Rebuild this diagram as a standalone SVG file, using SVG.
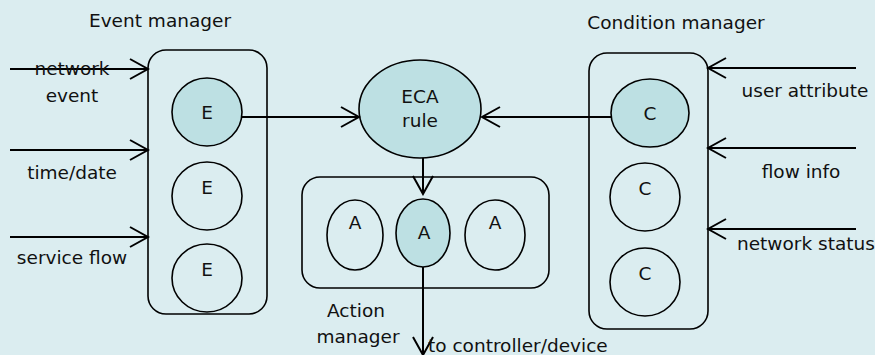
<svg xmlns="http://www.w3.org/2000/svg" width="875" height="355" viewBox="0 0 875 355">
  <defs>
    <style>
      text { font-family: "DejaVu Sans", Verdana, sans-serif; font-size: 18.5px; fill: #111; }
      .c { text-anchor: middle; }
      .box { fill: none; stroke: #000; stroke-width: 1.6; }
      .node { fill: none; stroke: #000; stroke-width: 1.6; }
      .hot { fill: #bde0e3; }
      .wire { fill: none; stroke: #000; stroke-width: 2; }
    </style>
    <marker id="open" viewBox="-20 -12 22 24" markerWidth="22" markerHeight="24" refX="0" refY="0" markerUnits="userSpaceOnUse" orient="auto">
      <path d="M-18,-10 L0,0 L-18,10" fill="none" stroke="#000" stroke-width="2"/>
    </marker>
  </defs>

  <rect width="875" height="355" fill="#dbedf0"/>

  <!-- Event manager -->
  <g id="event-manager">
    <text class="c" x="160" y="27">Event manager</text>
    <rect class="box" x="148" y="50" width="119" height="264" rx="18"/>
    <ellipse class="node hot" cx="207" cy="112" rx="35" ry="34"/>
    <text class="c" x="207" y="119">E</text>
    <ellipse class="node" cx="207" cy="196" rx="35" ry="34"/>
    <text class="c" x="207" y="194">E</text>
    <ellipse class="node" cx="207" cy="278" rx="35" ry="34"/>
    <text class="c" x="207" y="276">E</text>
  </g>

  <!-- ECA rule -->
  <g id="eca-rule">
    <ellipse class="node hot" cx="420" cy="109" rx="61" ry="49"/>
    <text class="c" x="420" y="103">ECA</text>
    <text class="c" x="420" y="127">rule</text>
  </g>

  <!-- Action manager -->
  <g id="action-manager">
    <rect class="box" x="302" y="177" width="247" height="111" rx="18"/>
    <ellipse class="node" cx="355" cy="235" rx="28" ry="35"/>
    <text class="c" x="355" y="229">A</text>
    <ellipse class="node hot" cx="423" cy="233" rx="27" ry="34"/>
    <text class="c" x="424" y="239">A</text>
    <ellipse class="node" cx="495" cy="235" rx="30" ry="35"/>
    <text class="c" x="495" y="229">A</text>
    <text class="c" x="356" y="317">Action</text>
    <text class="c" x="358" y="343">manager</text>
  </g>

  <!-- Condition manager -->
  <g id="condition-manager">
    <text class="c" x="676" y="29">Condition manager</text>
    <rect class="box" x="589" y="53" width="119" height="276" rx="18"/>
    <ellipse class="node hot" cx="650" cy="113" rx="39" ry="34"/>
    <text class="c" x="650" y="120">C</text>
    <ellipse class="node" cx="645" cy="197" rx="35" ry="34"/>
    <text class="c" x="645" y="195">C</text>
    <ellipse class="node" cx="645" cy="282" rx="35" ry="34"/>
    <text class="c" x="645" y="280">C</text>
  </g>

  <!-- Connectors -->
  <g id="connectors">
    <line class="wire" x1="10" y1="69" x2="148" y2="69" marker-end="url(#open)"/>
    <line class="wire" x1="10" y1="150" x2="148" y2="150" marker-end="url(#open)"/>
    <line class="wire" x1="10" y1="237" x2="148" y2="237" marker-end="url(#open)"/>
    <line class="wire" x1="242" y1="117" x2="359" y2="117" marker-end="url(#open)"/>
    <line class="wire" x1="611" y1="117" x2="482" y2="117" marker-end="url(#open)"/>
    <line class="wire" x1="423" y1="158" x2="423" y2="194" marker-end="url(#open)"/>
    <line class="wire" x1="423" y1="267" x2="423" y2="355" marker-end="url(#open)"/>
    <line class="wire" x1="856" y1="68" x2="708" y2="68" marker-end="url(#open)"/>
    <line class="wire" x1="856" y1="148" x2="708" y2="148" marker-end="url(#open)"/>
    <line class="wire" x1="856" y1="229" x2="708" y2="229" marker-end="url(#open)"/>
  </g>

  <!-- Input and output labels -->
  <g id="labels">
    <text class="c" x="72" y="75">network</text>
    <text class="c" x="72" y="102">event</text>
    <text class="c" x="72" y="179">time/date</text>
    <text class="c" x="72" y="264">service flow</text>
    <text class="c" x="805" y="97">user attribute</text>
    <text class="c" x="801" y="178">flow info</text>
    <text x="737" y="250">network status</text>
    <text x="428" y="352">to controller/device</text>
  </g>
</svg>
